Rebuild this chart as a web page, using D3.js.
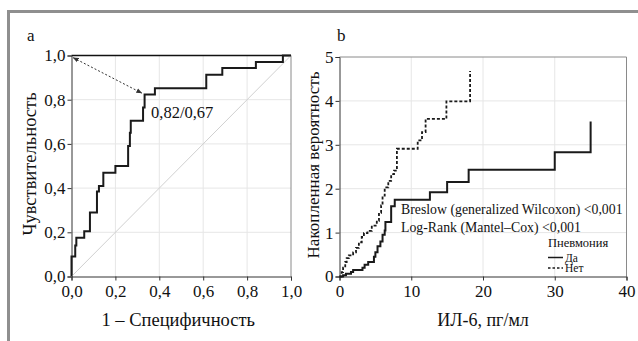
<!DOCTYPE html>
<html lang="ru">
<head>
<meta charset="UTF-8">
<title>ROC / ИЛ-6</title>
<script src="https://cdn.jsdelivr.net/npm/d3@7/dist/d3.min.js"></script>
<style>
  body { margin: 0; background: #fff; }
  svg { display: block; }
  svg text { font-family: "Liberation Serif", "Times New Roman", serif; fill: #111; }
  .grid line { stroke: #e6e6e6; stroke-width: 1; }
  .axis text { font-size: 17px; }
  .axis path, .axis line { stroke: #333; }
</style>
</head>
<body>
<script>
    // panel a : ROC curve, step points (1 - specificity, sensitivity)
    var rocFpr  = [0, 0.017, 0.022, 0.058, 0.084, 0.116, 0.125, 0.145, 0.200, 0.258, 0.266, 0.270, 0.326, 0.333, 0.380, 0.614, 0.687, 0.840, 0.963, 1.0];
    var rocTpr  = [0.09, 0.14, 0.175, 0.205, 0.29, 0.385, 0.41, 0.47, 0.50, 0.59, 0.65, 0.705, 0.765, 0.824, 0.852, 0.913, 0.943, 0.971, 1.0, 1.0];
    var rocTicks = [0, 0.2, 0.4, 0.6, 0.8, 1.0];
    var cutoff = [0.32, 0.83];
    var cutoffLabel = "0,82/0,67";

    // panel b : cumulative hazard vs IL-6
    var daX  = [0, 0.5, 0.9, 1.6, 1.9, 3.2, 3.5, 4.0, 4.8, 5.0, 5.3, 5.7, 6.0, 6.3, 6.4, 7.2, 7.7, 12.6, 15.0, 18.0, 30.0, 35.0];
    var daY  = [0, 0.03, 0.06, 0.10, 0.15, 0.20, 0.27, 0.33, 0.45, 0.55, 0.69, 0.80, 0.95, 1.05, 1.24, 1.60, 1.75, 1.92, 2.15, 2.43, 2.83, 3.53];
    var netX = [0, 0.3, 0.5, 0.8, 1.0, 1.3, 1.9, 2.3, 2.7, 3.1, 3.4, 3.9, 4.5, 5.2, 5.5, 5.8, 6.0, 6.3, 6.8, 7.2, 7.6, 8.0, 10.9, 11.5, 12.0, 14.9, 18.2];
    var netY = [0, 0.10, 0.20, 0.33, 0.42, 0.48, 0.55, 0.65, 0.78, 0.90, 0.99, 1.04, 1.16, 1.27, 1.45, 1.62, 1.84, 2.03, 2.18, 2.33, 2.41, 2.91, 3.10, 3.29, 3.59, 3.99, 4.68];
    var ilTicks = [0, 10, 20, 30, 40];
    var hazTicks = [0, 1, 2, 3, 4, 5];
    var testLines = ["Breslow (generalized Wilcoxon) <0,001", "Log-Rank (Mantel\u2013Cox) <0,001"];
    var legendTitle = "Пневмония";
    var groups = ["Да", "Нет"];

    var width = 638, height = 341;
    var svg = d3.select("body").append("svg")
        .attr("width", width)
        .attr("height", height);

    // outer frame (top + left)
    svg.append("line").attr("x1", 8).attr("x2", width).attr("y1", 11.5).attr("y2", 11.5)
        .attr("stroke", "#8f8f8f").attr("stroke-width", 3);
    svg.append("line").attr("x1", 8.5).attr("x2", 8.5).attr("y1", 10).attr("y2", height)
        .attr("stroke", "#8f8f8f").attr("stroke-width", 3);

    var comma = function(f){ return function(d){ return f(d).replace(".", ","); }; };

    function drawPanel(g, x, y, xt, yt, xf, yf, topColor){
        var x0 = x.range()[0], x1 = x.range()[1], y0 = y.range()[0], y1 = y.range()[1];
        var grid = g.append("g").attr("class", "grid");
        grid.selectAll(".gx").data(xt.slice(1, -1)).enter().append("line")
            .attr("x1", function(d){ return x(d); }).attr("x2", function(d){ return x(d); })
            .attr("y1", y0).attr("y2", y1);
        grid.selectAll(".gy").data(yt.slice(1, -1)).enter().append("line")
            .attr("x1", x0).attr("x2", x1)
            .attr("y1", function(d){ return y(d); }).attr("y2", function(d){ return y(d); });
        // frame top / right
        g.append("line").attr("x1", x0).attr("x2", x1).attr("y1", y1).attr("y2", y1)
            .attr("stroke", topColor).attr("stroke-width", topColor == "#111" ? 1.6 : 1);
        g.append("line").attr("x1", x1).attr("x2", x1).attr("y1", y0).attr("y2", y1)
            .attr("stroke", "#8a8a8a");

        g.append("g").attr("class", "axis")
            .attr("transform", "translate(0," + y0 + ")")
            .call(d3.axisBottom(x).tickValues(xt).tickFormat(xf).tickSize(4).tickPadding(4))
            .attr("font-family", null).attr("font-size", null);
        g.append("g").attr("class", "axis")
            .attr("transform", "translate(" + x0 + ",0)")
            .call(d3.axisLeft(y).tickValues(yt).tickFormat(yf).tickSize(4).tickPadding(2))
            .attr("font-family", null).attr("font-size", null);
    }

    // ---------- panel a ----------
    var ga = svg.append("g");
    var xa = d3.scaleLinear().domain([0, 1]).range([71.5, 291]);
    var ya = d3.scaleLinear().domain([0, 1]).range([276.5, 55.5]);
    drawPanel(ga, xa, ya, rocTicks, rocTicks, comma(d3.format(".1f")), comma(d3.format(".1f")), "#111");

    ga.append("line")
        .attr("x1", xa(0)).attr("y1", ya(0)).attr("x2", xa(1)).attr("y2", ya(1))
        .attr("stroke", "#d0d0d0").attr("stroke-width", 1);

    var rocPts = rocFpr.map(function(d, i){ return [d, rocTpr[i]]; });
    rocPts.unshift([0, 0]);
    ga.append("path")
        .datum(rocPts)
        .attr("fill", "none").attr("stroke", "#1a1a1a").attr("stroke-width", 2)
        .attr("d", d3.line().curve(d3.curveStepAfter)
            .x(function(d){ return xa(d[0]); }).y(function(d){ return ya(d[1]); }));

    var defs = svg.append("defs");
    defs.append("marker").attr("id", "arr").attr("viewBox", "0 0 10 10")
        .attr("refX", 9).attr("refY", 5).attr("markerWidth", 6).attr("markerHeight", 6)
        .attr("orient", "auto-start-reverse")
        .append("path").attr("d", "M0,1 L10,5 L0,9 Z").attr("fill", "#333");
    ga.append("line")
        .attr("x1", xa(0.008)).attr("y1", ya(0.99))
        .attr("x2", xa(cutoff[0])).attr("y2", ya(cutoff[1]))
        .attr("stroke", "#333").attr("stroke-width", 1).attr("stroke-dasharray", "2,2")
        .attr("marker-start", "url(#arr)").attr("marker-end", "url(#arr)");
    ga.append("text").attr("x", 151).attr("y", 118)
        .style("font-size", "16.5px").text(cutoffLabel);

    ga.append("text").attr("x", 27).attr("y", 41).style("font-size", "17px").text("a");
    ga.append("text").attr("transform", "translate(36,164) rotate(-90)")
        .attr("text-anchor", "middle").style("font-size", "18.5px").text("Чувствительность");
    ga.append("text").attr("x", (xa.range()[0] + xa.range()[1]) / 2 - 3).attr("y", 326)
        .attr("text-anchor", "middle").style("font-size", "18.5px").text("1 \u2013 Специфичность");

    // ---------- panel b ----------
    var gb = svg.append("g");
    var xb = d3.scaleLinear().domain([0, 40]).range([339.5, 626.5]);
    var yb = d3.scaleLinear().domain([0, 5]).range([276.5, 57]);
    drawPanel(gb, xb, yb, ilTicks, hazTicks, d3.format("d"), d3.format("d"), "#8a8a8a");

    var stepLine = d3.line().curve(d3.curveStepAfter)
        .x(function(d){ return xb(d[0]); }).y(function(d){ return yb(d[1]); });
    gb.append("path")
        .datum(netX.map(function(d, i){ return [d, netY[i]]; }))
        .attr("fill", "none").attr("stroke", "#1a1a1a").attr("stroke-width", 1.8)
        .attr("stroke-dasharray", "3,2")
        .attr("d", stepLine);
    gb.append("path")
        .datum(daX.map(function(d, i){ return [d, daY[i]]; }))
        .attr("fill", "none").attr("stroke", "#1a1a1a").attr("stroke-width", 2)
        .attr("d", stepLine);

    gb.selectAll(".test").data(testLines).enter().append("text")
        .attr("x", 401).attr("y", function(d, i){ return 214 + i * 18; })
        .style("font-size", "13.8px").text(function(d){ return d; });

    gb.append("text").attr("x", 548).attr("y", 247).style("font-size", "12.5px").text(legendTitle);
    var leg = gb.selectAll(".leg").data(groups).enter().append("g")
        .attr("transform", function(d, i){ return "translate(548," + (257.5 + i * 10.5) + ")"; });
    leg.append("line").attr("x1", 0).attr("x2", 15).attr("y1", 0).attr("y2", 0)
        .attr("stroke", "#1a1a1a").attr("stroke-width", 1.5)
        .attr("stroke-dasharray", function(d, i){ return i ? "2.5,2" : null; });
    leg.append("text").attr("x", 17).attr("y", 4).style("font-size", "11.5px")
        .text(function(d){ return d; });

    gb.append("text").attr("x", 337).attr("y", 41).style("font-size", "17px").text("b");
    gb.append("text").attr("transform", "translate(319,165) rotate(-90)")
        .attr("text-anchor", "middle").style("font-size", "17px").text("Накопленная вероятность");
    gb.append("text").attr("x", (xb.range()[0] + xb.range()[1]) / 2).attr("y", 326)
        .attr("text-anchor", "middle").style("font-size", "18px").text("ИЛ-6, пг/мл");
</script>
</body>
</html>
